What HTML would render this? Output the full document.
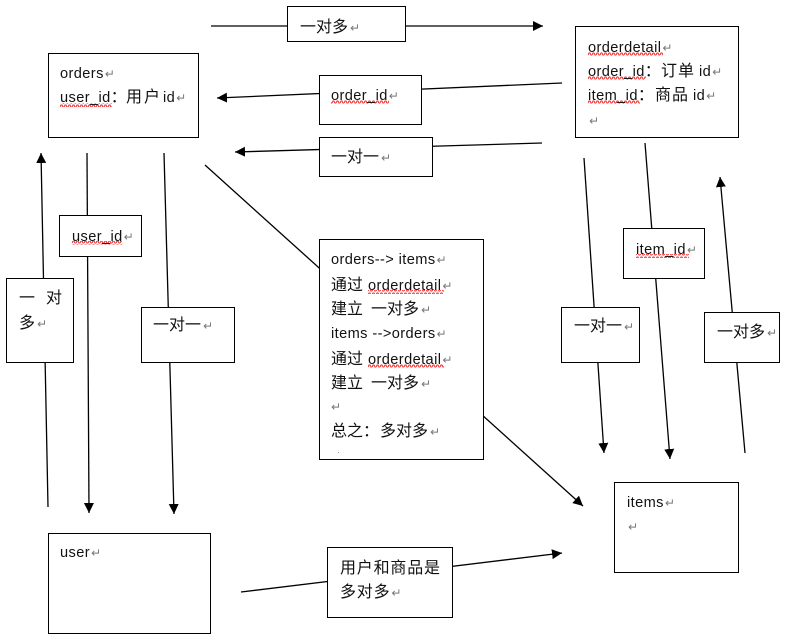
<!DOCTYPE html>
<html><head><meta charset="utf-8"><style>
html,body{margin:0;padding:0;background:#fff}
svg{display:block}
text{font-family:"Liberation Sans","WenQuanYi Zen Hei","Noto Sans CJK SC",sans-serif;font-size:14.6px;fill:#111;letter-spacing:.4px}
.c{font-size:16px;letter-spacing:0}
.l{font-size:14.6px;letter-spacing:.4px}
.r{font-family:"DejaVu Sans",sans-serif;font-size:12px;fill:#777;letter-spacing:0}
rect.b{fill:#fff;stroke:#000;stroke-width:1;shape-rendering:crispEdges}
line{stroke:#000;stroke-width:1.3}
</style></head><body>
<svg width="796" height="643" viewBox="0 0 796 643" xmlns="http://www.w3.org/2000/svg">
<defs>
<marker id="a" markerUnits="userSpaceOnUse" markerWidth="12" markerHeight="12" refX="10" refY="6" orient="auto"><path d="M0 1L10 6L0 11Z" fill="#000"/></marker>
<pattern id="w" patternUnits="userSpaceOnUse" width="4" height="4" x="0" y="0"><path d="M0 3L1 1L2 1L3 3L4 3" fill="none" stroke="#f02a2a" stroke-width="1"/></pattern>
</defs>

<line x1="211" y1="26" x2="543" y2="26" marker-end="url(#a)"/>
<line x1="562" y1="83" x2="217" y2="98" marker-end="url(#a)"/>
<line x1="542" y1="143" x2="235" y2="152" marker-end="url(#a)"/>
<line x1="87" y1="153" x2="89" y2="513" marker-end="url(#a)"/>
<line x1="164" y1="153" x2="174" y2="514" marker-end="url(#a)"/>
<line x1="48" y1="507" x2="41" y2="153" marker-end="url(#a)"/>
<line x1="205" y1="165" x2="583" y2="506" marker-end="url(#a)"/>
<line x1="584" y1="158" x2="604" y2="453" marker-end="url(#a)"/>
<line x1="645" y1="143" x2="670" y2="459" marker-end="url(#a)"/>
<line x1="745" y1="453" x2="720" y2="177" marker-end="url(#a)"/>
<line x1="241" y1="592" x2="562" y2="553" marker-end="url(#a)"/>

<rect class="b" x="48.5" y="53.5" width="150" height="84"/>
<rect class="b" x="575.5" y="26.5" width="163" height="111"/>
<rect class="b" x="287.5" y="6.5" width="118" height="35"/>
<rect class="b" x="319.5" y="75.5" width="102" height="49"/>
<rect class="b" x="319.5" y="137.5" width="113" height="39"/>
<rect class="b" x="59.5" y="215.5" width="82" height="41"/>
<rect class="b" x="6.5" y="278.5" width="67" height="84"/>
<rect class="b" x="141.5" y="307.5" width="93" height="55"/>
<rect class="b" x="319.5" y="239.5" width="164" height="220"/>
<rect class="b" x="561.5" y="307.5" width="78" height="55"/>
<rect class="b" x="623.5" y="228.5" width="81" height="50"/>
<rect class="b" x="704.5" y="312.5" width="75" height="50"/>
<rect class="b" x="614.5" y="482.5" width="124" height="90"/>
<rect class="b" x="48.5" y="533.5" width="162" height="100"/>
<rect class="b" x="327.5" y="547.5" width="125" height="70"/>

<rect x="60" y="103" width="52" height="4" fill="url(#w)"/>
<rect x="331" y="100" width="58" height="4" fill="url(#w)"/>
<rect x="588" y="52" width="75" height="4" fill="url(#w)"/>
<rect x="588" y="76" width="58" height="4" fill="url(#w)"/>
<rect x="588" y="100" width="52" height="4" fill="url(#w)"/>
<rect x="368" y="290" width="76" height="4" fill="url(#w)"/>
<rect x="368" y="364" width="76" height="4" fill="url(#w)"/>
<rect x="72" y="241" width="50" height="4" fill="url(#w)"/>
<rect x="636" y="254" width="53" height="4" fill="url(#w)"/>

<text x="60" y="78">orders<tspan class="r" dx="1">↵</tspan></text>
<text x="60" y="102">user_id<tspan class="c">：</tspan><tspan class="c" x="126">用</tspan><tspan class="c" x="144">户</tspan><tspan x="163">id</tspan><tspan class="r" dx="1">↵</tspan></text>

<text class="c" x="300" y="32">一对多<tspan class="r" dx="2">↵</tspan></text>
<text x="331" y="100">order_id<tspan class="r" dx="1">↵</tspan></text>
<text class="c" x="331" y="162">一对一<tspan class="r" dx="2">↵</tspan></text>

<text x="588" y="52">orderdetail<tspan class="r" dx="1">↵</tspan></text>
<text x="588" y="76">order_id<tspan class="c">：</tspan><tspan class="c" x="661">订</tspan><tspan class="c" x="678">单</tspan><tspan x="699">id</tspan><tspan class="r" dx="1">↵</tspan></text>
<text x="588" y="100">item_id<tspan class="c">：</tspan><tspan class="c" x="655">商</tspan><tspan class="c" x="672">品</tspan><tspan x="693">id</tspan><tspan class="r" dx="1">↵</tspan></text>
<text class="r" x="589" y="125">↵</text>

<text x="72" y="241">user_id<tspan class="r" dx="1">↵</tspan></text>
<text class="c" x="19" y="303">一<tspan x="46">对</tspan></text>
<text class="c" x="19" y="328">多<tspan class="r" dx="2">↵</tspan></text>
<text class="c" x="153" y="330">一对一<tspan class="r" dx="2">↵</tspan></text>

<text x="331" y="264">orders--&gt; items<tspan class="r" dx="1">↵</tspan></text>
<text class="c" x="331" y="290">通过<tspan class="l" x="368">orderdetail</tspan><tspan class="r" dx="1">↵</tspan></text>
<text class="c" x="331" y="314">建立<tspan x="371">一对多</tspan><tspan class="r" dx="2">↵</tspan></text>
<text x="331" y="338">items --&gt;orders<tspan class="r" dx="1">↵</tspan></text>
<text class="c" x="331" y="364">通过<tspan class="l" x="368">orderdetail</tspan><tspan class="r" dx="1">↵</tspan></text>
<text class="c" x="331" y="388">建立<tspan x="371">一对多</tspan><tspan class="r" dx="2">↵</tspan></text>
<text class="r" x="331" y="411">↵</text>
<text class="c" x="331" y="436">总之：<tspan x="380">多对多</tspan><tspan class="r" dx="2">↵</tspan></text>
<rect x="338" y="452" width="1" height="1" fill="#999"/>

<text class="c" x="574" y="331">一对一<tspan class="r" dx="2">↵</tspan></text>
<text x="636" y="254">item_id<tspan class="r" dx="1">↵</tspan></text>
<text class="c" x="717" y="337">一对多<tspan class="r" dx="2">↵</tspan></text>

<text x="627" y="507">items<tspan class="r" dx="1">↵</tspan></text>
<text class="r" x="628" y="531">↵</text>
<text x="60" y="557">user<tspan class="r" dx="1">↵</tspan></text>
<text class="c" x="340" y="573" style="letter-spacing:.8px">用户和商品是</text>
<text class="c" x="340" y="597" style="letter-spacing:.8px">多对多<tspan class="r" dx="1">↵</tspan></text>
</svg>
</body></html>
